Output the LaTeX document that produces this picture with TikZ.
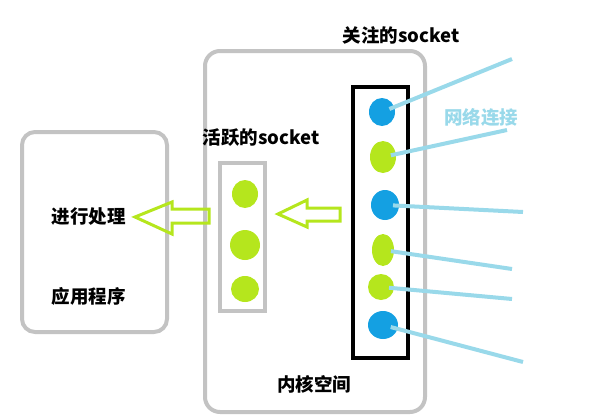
\documentclass[tikz,border=0pt]{standalone}
\usepackage{fontspec}
\setmainfont{Noto Sans CJK SC}
\usetikzlibrary{positioning, shapes.geometric, calc}

% barvy (paleta z Paintu)
\definecolor{lime}{RGB}{181,230,29}
\definecolor{sockblue}{RGB}{20,160,226}
\definecolor{netblue}{RGB}{153,217,234}
\definecolor{boxgray}{RGB}{195,195,195}

\begin{document}
\begin{tikzpicture}[x=1pt, y=-1pt, font=\fontsize{18.5}{22}\selectfont\bfseries,
    sock/.style={ellipse, inner sep=0pt},
    link/.style={netblue, line width=4pt, shorten <=8pt},
    hollow/.style={lime, line width=3pt, line join=miter}]

    \useasboundingbox (0,0) rectangle (614,418);

    % 1. Aplikace a jádro
    \draw[boxgray, line width=4pt, rounded corners=13pt] (22,132) rectangle (167,332);
    \draw[boxgray, line width=4pt, rounded corners=15pt] (205,51) rectangle (425,412);

    \node (proc) at (89,217) {进行处理};
    \node (app)  at (89,296) {应用程序};
    \node (kern) at (314,384) {内核空间};

    % 2. Aktivní sockety
    \node (lact) at (261,138) {活跃的socket};
    \node[draw=boxgray, line width=4pt, minimum width=45pt, minimum height=148pt] (act) at (242.5,237) {};
    \foreach \i/\y/\rx/\ry in {1/194/13/14, 2/245/15/15, 3/289/14/13} {
        \node[sock, fill=lime, minimum width=2*\rx pt, minimum height=2*\ry pt] (a\i) at (245,\y) {};
    }

    % 3. Sledované sockety
    \node (lwatch) at (401,35) {关注的socket};
    \node[draw=black, line width=4pt, minimum width=55pt, minimum height=271pt] (watch) at (380.5,222.5) {};

    \foreach \i/\x/\y/\c/\rx/\ry/\ex/\ey in {
        1/382/112/sockblue/13/14/512/59,
        2/383/157/lime/13/16/507/130,
        3/385/205/sockblue/14/15/523/212,
        4/383/250/lime/11/16/512/269,
        5/381/287/lime/13/13/512/299,
        6/383/325/sockblue/15/14/523/362} {
        \node[sock, fill=\c, minimum width=2*\rx pt, minimum height=2*\ry pt] (s\i) at (\x,\y) {};
        \coordinate (e\i) at (\ex,\ey);
        \draw[link] (s\i.center) -- (e\i);
    }

    \node[text=netblue] (net) at (481,117) {网络连接};

    % 4. Duté šipky
    \draw[hollow] (135,217) -- (172,202) -- (172,209) -- (209,209) -- (209,223)
        -- (172,223) -- (172,234) -- cycle;
    \draw[hollow] (278,214) -- (307,200) -- (307,208) -- (340,208) -- (340,221)
        -- (307,221) -- (307,227) -- cycle;

\end{tikzpicture}
\end{document}
